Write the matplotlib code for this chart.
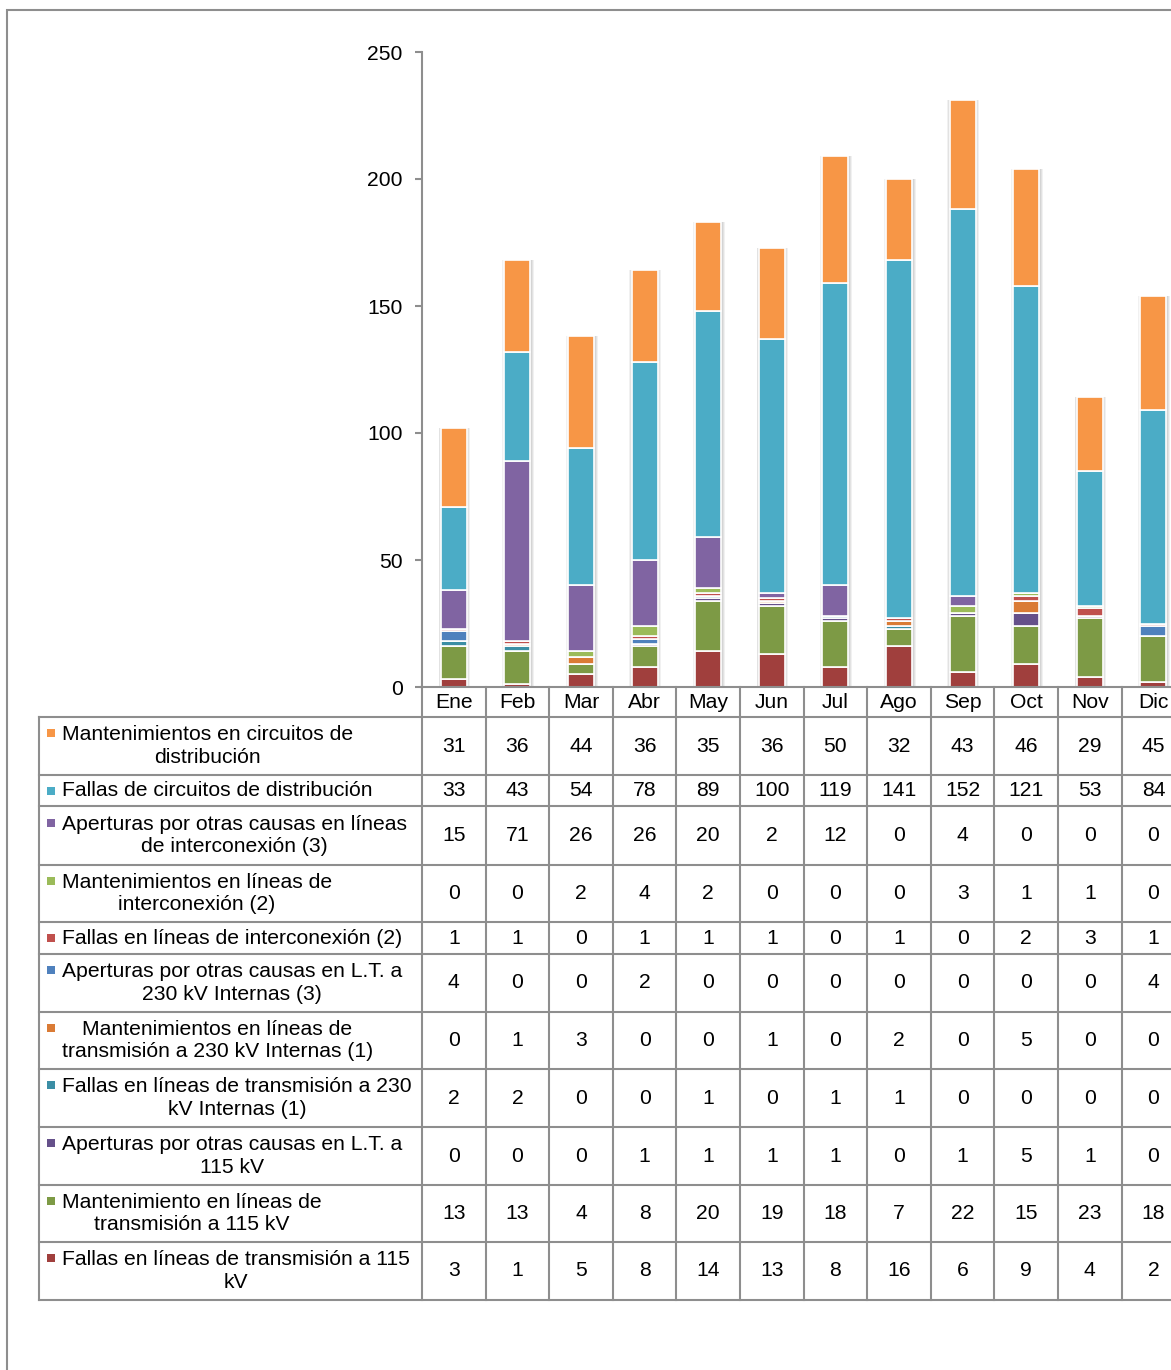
import numpy as np
import matplotlib
matplotlib.use("Agg")
import matplotlib.pyplot as plt
from matplotlib.patches import Rectangle
from matplotlib.lines import Line2D
import matplotlib.transforms as mtransforms

plt.rcParams['font.family'] = ['Liberation Sans', 'DejaVu Sans']

W, H = 1171, 1370

meses = ["Ene", "Feb", "Mar", "Abr", "May", "Jun", "Jul", "Ago", "Sep", "Oct", "Nov", "Dic"]

# series in table order (top row = top of the stack)
series = [
    "Mantenimientos en circuitos de\ndistribución",
    "Fallas de circuitos de distribución",
    "Aperturas por otras causas en líneas\nde interconexión (3)",
    "Mantenimientos en líneas de\ninterconexión (2)",
    "Fallas en líneas de interconexión (2)",
    "Aperturas por otras causas en L.T. a\n230 kV Internas (3)",
    "Mantenimientos en líneas de\ntransmisión a 230 kV Internas (1)",
    "Fallas en líneas de transmisión a 230\nkV Internas (1)",
    "Aperturas por otras causas en L.T. a\n115 kV",
    "Mantenimiento en líneas de\ntransmisión a 115 kV",
    "Fallas en líneas de transmisión a 115\nkV",
]
mant_dist = [31, 36, 44, 36, 35, 36, 50, 32, 43, 46, 29, 45]
fallas_dist = [33, 43, 54, 78, 89, 100, 119, 141, 152, 121, 53, 84]
aper_inter = [15, 71, 26, 26, 20, 2, 12, 0, 4, 0, 0, 0]
mant_inter = [0, 0, 2, 4, 2, 0, 0, 0, 3, 1, 1, 0]
fallas_inter = [1, 1, 0, 1, 1, 1, 0, 1, 0, 2, 3, 1]
aper_230 = [4, 0, 0, 2, 0, 0, 0, 0, 0, 0, 0, 4]
mant_230 = [0, 1, 3, 0, 0, 1, 0, 2, 0, 5, 0, 0]
fallas_230 = [2, 2, 0, 0, 1, 0, 1, 1, 0, 0, 0, 0]
aper_115 = [0, 0, 0, 1, 1, 1, 1, 0, 1, 5, 1, 0]
mant_115 = [13, 13, 4, 8, 20, 19, 18, 7, 22, 15, 23, 18]
fallas_115 = [3, 1, 5, 8, 14, 13, 8, 16, 6, 9, 4, 2]

valores = [mant_dist, fallas_dist, aper_inter, mant_inter, fallas_inter,
           aper_230, mant_230, fallas_230, aper_115, mant_115, fallas_115]
colores = ["#F79646", "#4BACC6", "#8064A2", "#9BBB59", "#C0504D",
           "#4F81BD", "#DA7B35", "#3B8EA5", "#65508A", "#7D9A45", "#A03F3D"]

# row boundaries of the data table (pixels from top)
filas_y = [717, 775, 806, 865, 922, 954, 1012, 1069, 1127, 1185, 1242, 1300]

gris = "#8e8e8e"
fs = 15.2


def fx(x):
    return x / W


def fy(y):
    return 1 - y / H


fig = plt.figure(figsize=(W / 100, H / 100), dpi=100)

# outer frame
fig.add_artist(Rectangle((fx(7), fy(1400)), 2, fy(10) - fy(1400), fill=False,
                         edgecolor=gris, lw=1.5, transform=fig.transFigure))

x0, x1 = 422, 422 + 12 * 63.6
ax = fig.add_axes([fx(x0), fy(687), fx(x1) - fx(x0), fy(52) - fy(687)])
ax.set_xlim(-0.5, 11.5)
ax.set_ylim(0, 250)

x = np.arange(len(meses))
ancho = 0.41
totales = np.sum(np.array(valores), axis=0)
# soft shadow behind each stacked bar
for k, a in [(0.09, 0.25), (0.06, 0.35), (0.03, 0.5)]:
    ax.bar(x + 0.01, totales + 1.0, width=ancho + k, bottom=-1, color="#c8c8c8",
           alpha=a, lw=0, zorder=1)

base = np.zeros(len(meses))
for vals, col in zip(valores[::-1], colores[::-1]):
    v = np.array(vals, dtype=float)
    ax.bar(x, v, width=ancho, bottom=base, color=col, edgecolor="white",
           lw=1.2, zorder=2)
    base += v

for s in ["top", "right", "bottom"]:
    ax.spines[s].set_visible(False)
ax.spines["left"].set_color(gris)
ax.spines["left"].set_linewidth(1.5)
ax.set_xticks([])
ax.set_yticks(np.arange(0, 251, 50))
ax.tick_params(axis="y", direction="out", length=5, width=1.5, color=gris,
               labelsize=fs, pad=9)

# data table below the axis
lw = 1.5
fig.add_artist(Line2D([fx(421), 1.0], [fy(687), fy(687)], color=gris, lw=lw))
for yb in filas_y:
    fig.add_artist(Line2D([fx(39), 1.0], [fy(yb), fy(yb)], color=gris, lw=lw))
fig.add_artist(Line2D([fx(39), fx(39)], [fy(717), fy(1300)], color=gris, lw=lw))

tr = mtransforms.blended_transform_factory(ax.transData, fig.transFigure)
for i in range(len(meses) + 1):
    fig.add_artist(Line2D([i - 0.5, i - 0.5], [fy(687), fy(1300)], color=gris,
                          lw=lw, transform=tr))

for i, m in enumerate(meses):
    fig.text(i, fy(702), m, transform=tr, ha="center", va="center", fontsize=fs)

for r, (nombre, vals, col) in enumerate(zip(series, valores, colores)):
    ytop, ybot = filas_y[r], filas_y[r + 1]
    ymid = (ytop + ybot) / 2
    fig.text(fx(62), fy(ymid), nombre, ha="left", va="center", ma="center",
             fontsize=fs, linespacing=1.25)
    ysq = ymid - 13 if "\n" in nombre else ymid
    fig.add_artist(Rectangle((fx(47), fy(ysq + 4)), fx(8), fy(0) - fy(8),
                             color=col, lw=0, transform=fig.transFigure))
    for i, v in enumerate(vals):
        fig.text(i, fy(ymid), str(v), transform=tr, ha="center", va="center",
                 fontsize=fs)

plt.savefig("out.png", dpi=100)
plt.close()
